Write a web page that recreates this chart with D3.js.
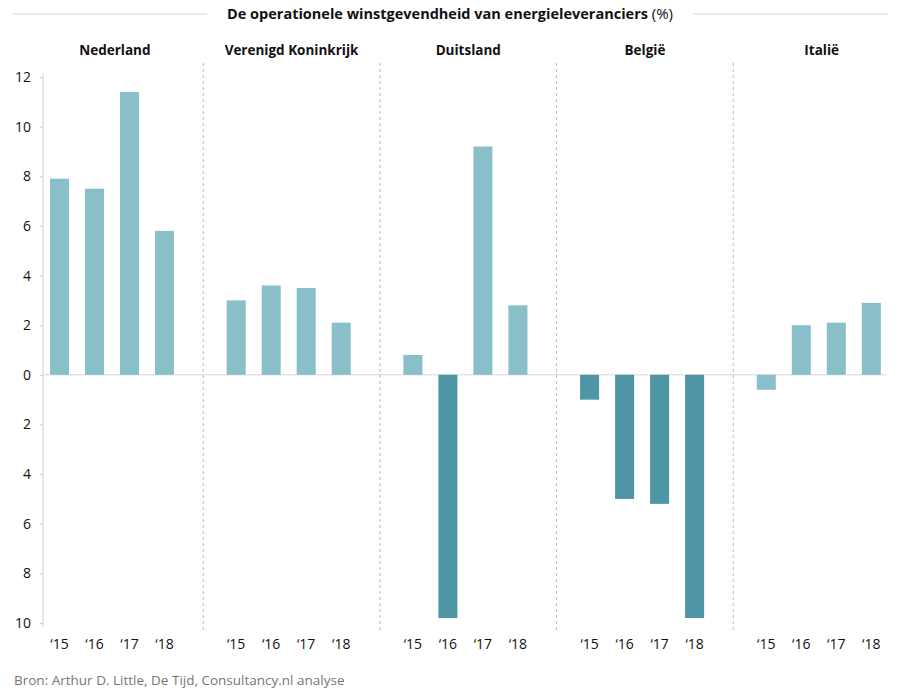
<!DOCTYPE html>
<html>
<head>
<meta charset="utf-8">
<script src="https://cdn.jsdelivr.net/npm/d3@7"></script>
<style>
  body { margin: 0; background: #fff; }
  text { font-family: "Open Sans", sans-serif; }
</style>
</head>
<body>
<script>
// data
var countries = ["Nederland", "Verenigd Koninkrijk", "Duitsland", "België", "Italië"];
var years = ["‘15", "‘16", "‘17", "‘18"];
var nederland = [7.9, 7.5, 11.4, 5.8];
var verenigdKoninkrijk = [3.0, 3.6, 3.5, 2.1];
var duitsland = [0.8, -9.8, 9.2, 2.8];
var belgie = [-1.0, -5.0, -5.2, -9.8];
var italie = [-0.6, 2.0, 2.1, 2.9];
// which bars are drawn in the dark tone
var darkBars = [[0, 0, 0, 0], [0, 0, 0, 0], [0, 1, 0, 0], [1, 1, 1, 1], [0, 0, 0, 0]];
var yTicks = [-10, -8, -6, -4, -2, 0, 2, 4, 6, 8, 10, 12];
var title = "De operationele winstgevendheid van energieleveranciers";
var source = "Bron: Arthur D. Little, De Tijd, Consultancy.nl analyse";

var values = [nederland, verenigdKoninkrijk, duitsland, belgie, italie];

var width = 900, height = 692;
var light = "#88bfc9", dark = "#4e95a5";

var svg = d3.select("body").append("svg")
    .attr("width", width)
    .attr("height", height);

var x0 = d3.scaleBand()
    .domain(countries)
    .range([26.5, 910]);

var x1 = d3.scaleBand()
    .domain(years)
    .range([15.5, 155.5])
    .paddingInner(0.457)
    .paddingOuter(0.228);

var y = d3.scaleLinear()
    .domain([-10, 12])
    .range([623, 77]);

// title with side lines
var t = svg.append("text")
    .attr("x", 450)
    .attr("y", 19)
    .attr("text-anchor", "middle")
    .style("font-size", "14.5px")
    .style("font-weight", "bold")
    .attr("fill", "#111");
t.append("tspan").text(title + " ");
t.append("tspan").style("font-weight", "normal").style("font-size", "15px").text("(%)");

var tw = t.node().getComputedTextLength();
svg.append("line")
    .attr("x1", 12).attr("x2", 450 - tw / 2 - 20)
    .attr("y1", 14).attr("y2", 14)
    .attr("stroke", "#d6d6d6");
svg.append("line")
    .attr("x1", 450 + tw / 2 + 20).attr("x2", 888)
    .attr("y1", 14).attr("y2", 14)
    .attr("stroke", "#d6d6d6");

// country headers
svg.selectAll(".country")
    .data(countries)
    .enter().append("text")
    .attr("class", "country")
    .attr("x", function (d) { return x0(d) + x0.bandwidth() / 2; })
    .attr("y", 55)
    .attr("text-anchor", "middle")
    .style("font-size", "13.5px")
    .style("font-weight", "bold")
    .attr("fill", "#111")
    .text(function (d) { return d; });

// dashed separators
svg.selectAll(".sep")
    .data(countries.slice(1))
    .enter().append("line")
    .attr("class", "sep")
    .attr("x1", function (d) { return x0(d); })
    .attr("x2", function (d) { return x0(d); })
    .attr("y1", 63)
    .attr("y2", 632)
    .attr("stroke", "#bbb")
    .attr("stroke-dasharray", "3,3");

// y axis
var yAxis = d3.axisLeft(y)
    .tickValues(yTicks)
    .tickSize(3)
    .tickFormat(function (d) { return Math.abs(d); });

var ay = svg.append("g")
    .attr("transform", "translate(43,0)")
    .call(yAxis);
ay.select(".domain").attr("stroke", "#d0d0d0").attr("d", "M0,74V627");
ay.selectAll(".tick line").attr("stroke", "#d0d0d0");
ay.selectAll(".tick text")
    .attr("x", -12)
    .style("font-size", "14px")
    .style("font-family", "Open Sans, sans-serif")
    .attr("fill", "#111");

// zero line
svg.append("line")
    .attr("x1", 43).attr("x2", 886)
    .attr("y1", y(0)).attr("y2", y(0))
    .attr("stroke", "#d6d6d6");

// bars
var panel = svg.selectAll(".panel")
    .data(countries)
    .enter().append("g")
    .attr("class", "panel")
    .attr("transform", function (d) { return "translate(" + x0(d) + ",0)"; });

panel.selectAll("rect")
    .data(function (d, i) {
        return values[i].map(function (v, j) {
            return { year: years[j], value: v, dark: darkBars[i][j] };
        });
    })
    .enter().append("rect")
    .attr("x", function (d) { return x1(d.year); })
    .attr("width", x1.bandwidth())
    .attr("y", function (d) { return y(Math.max(0, d.value)); })
    .attr("height", function (d) { return Math.abs(y(d.value) - y(0)); })
    .attr("fill", function (d) { return d.dark ? dark : light; });

panel.selectAll(".year")
    .data(years)
    .enter().append("text")
    .attr("class", "year")
    .attr("x", function (d) { return x1(d) + x1.bandwidth() / 2; })
    .attr("y", 649)
    .attr("text-anchor", "middle")
    .style("font-size", "14px")
    .attr("fill", "#111")
    .text(function (d) { return d; });

// source
svg.append("text")
    .attr("x", 14)
    .attr("y", 685)
    .style("font-size", "13.5px")
    .attr("fill", "#777")
    .text(source);
</script>
</body>
</html>
